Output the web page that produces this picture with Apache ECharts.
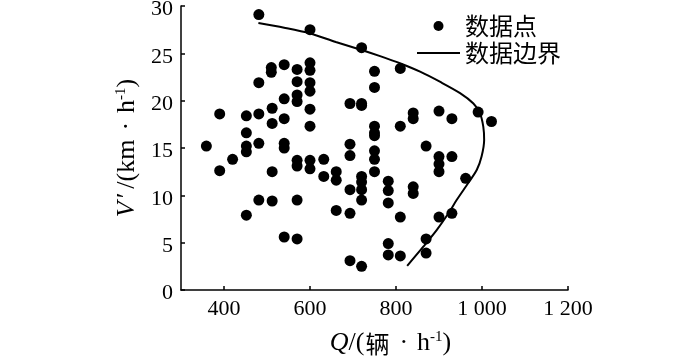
<!DOCTYPE html>
<html>
<head>
<meta charset="utf-8">
<script src="https://cdn.jsdelivr.net/npm/echarts@6/dist/echarts.min.js"></script>
<style>html,body{margin:0;padding:0;background:#fff}#c{width:700px;height:358px}</style>
</head>
<body>
<div id="c"></div>
<script>
const scatterQ = [481,600,720,540,510,510,570,600,600,600,600,600,600,750,750,810,
  481,570,540,570,570,512,540,512,390,452,481,452,452,452,481,359,540,540,
  693,720,720,750,750,750,810,693,693,750,750,750,840,840,900,930,991,1022,
  870,900,900,900,930,962,390,420,512,570,570,600,600,632,632,661,661,
  693,720,720,720,720,661,693,481,512,570,452,540,570,693,720,
  782,782,782,840,840,810,900,930,782,782,810,870,870];
const scatterV = [29.1,27.5,25.6,23.8,23.5,23.0,23.3,24.0,23.2,21.9,21.0,19.1,17.3,23.1,21.4,23.4,
  21.9,22.0,20.2,20.6,19.9,19.2,18.1,17.6,18.6,18.4,18.6,16.6,15.2,14.6,15.5,15.2,15.5,15.0,
  19.7,19.7,19.5,17.3,16.6,16.3,17.3,15.4,14.2,14.7,13.8,12.5,18.7,18.1,18.9,18.1,18.8,17.8,
  15.2,14.1,13.3,12.5,14.1,11.8,12.6,13.8,12.5,13.7,13.1,13.7,12.8,13.8,12.0,12.5,11.6,
  10.6,12.0,11.4,10.6,9.5,8.4,8.1,9.5,9.4,9.5,7.9,5.6,5.4,3.1,2.5,
  11.5,10.5,9.2,10.9,10.2,7.7,7.7,8.1,4.9,3.7,3.6,5.4,3.9];
const boundaryQ = [480,540,600,660,720,763,809,856,902,949,980,995,1003,1005,999,988,968,941,922,895,864,826];
const boundaryV = [28.2,27.7,27.1,26.2,25.35,24.7,23.95,23.06,22.0,20.8,19.7,18.7,17.25,15.85,14.1,12.7,11.3,9.5,8.1,6.35,4.6,2.55];
const xTickValues = [400,600,800,1000,1200];
const xTickLabels = ['400','600','800','1 000','1 200'];
const seriesNames = ['数据点','数据边界'];

const chart = echarts.init(document.getElementById('c'), null, {renderer:'canvas'});
const serif = '"Liberation Serif", "Noto Sans CJK SC", serif';
const axisLine = {show:true, lineStyle:{color:'#000', width:1.5}};
const nameRich = {
  i:{fontStyle:'italic', fontFamily:serif, fontSize:26, color:'#000'},
  p:{fontFamily:serif, fontSize:26, color:'#000', padding:[0,4,0,3]},
  c:{fontFamily:'"Noto Sans CJK SC"', fontSize:24, color:'#000', padding:[0,1,0,1]},
  d:{fontFamily:serif, fontSize:26, color:'#000', padding:[0,9,0,9]},
  s:{fontFamily:serif, fontSize:15, color:'#000', padding:[0,0,12,0]}
};
const option = {
  animation:false,
  grid:{left:181, right:132, top:6, bottom:68, outerBoundsMode:'none', containLabel:false},
  legend:{
    orient:'vertical', left:411, top:9, itemWidth:43, itemHeight:10, itemGap:3,
    data:[{name:seriesNames[0], icon:'circle'},
          {name:seriesNames[1], itemStyle:{color:'rgba(0,0,0,0)', borderColor:'rgba(0,0,0,0)', borderWidth:0}}],
    textStyle:{fontFamily:'"Noto Sans CJK SC"', fontSize:24, color:'#000', lineHeight:24}
  },
  xAxis:{
    type:'value', min:300, max:1200,
    axisLine:axisLine,
    splitLine:{show:false},
    axisTick:{show:true, inside:true, length:4, customValues:xTickValues, lineStyle:{color:'#000', width:1.5}},
    axisLabel:{customValues:xTickValues, margin:8, color:'#000', fontFamily:serif, fontSize:22,
      formatter:function(v){const i=xTickValues.indexOf(v);return i>=0?xTickLabels[i]:'';}},
    name:'{i|Q}/({c|辆}{d|·}h{s|-1})', nameLocation:'middle', nameGap:40,
    nameTextStyle:{color:'#000', fontFamily:serif, fontSize:26, padding:[0,0,0,32], rich:nameRich}
  },
  yAxis:{
    type:'value', min:0, max:30, interval:5,
    axisLine:axisLine,
    splitLine:{show:false},
    axisTick:{show:true, inside:true, length:4, lineStyle:{color:'#000', width:1.5}},
    axisLabel:{margin:8, color:'#000', fontFamily:serif, fontSize:22, verticalAlign:'top', lineHeight:7},
    name:'{i|V}{p|′}/(km{d|·}h{s|-1})', nameLocation:'middle', nameGap:40, nameRotate:90,
    nameTextStyle:{color:'#000', fontFamily:serif, fontSize:26, rich:nameRich}
  },
  series:[
    {name:seriesNames[0], type:'scatter', symbol:'circle', symbolSize:11,
     itemStyle:{color:'#000', opacity:1},
     data:scatterQ.map((q,i)=>[q, scatterV[i]])},
    {name:seriesNames[1], type:'line', symbol:'none', smooth:0.3,
     lineStyle:{color:'#000', width:2}, itemStyle:{color:'#000'},
     data:boundaryQ.map((q,i)=>[q, boundaryV[i]])}
  ]
};
chart.setOption(option);
</script>
</body>
</html>
